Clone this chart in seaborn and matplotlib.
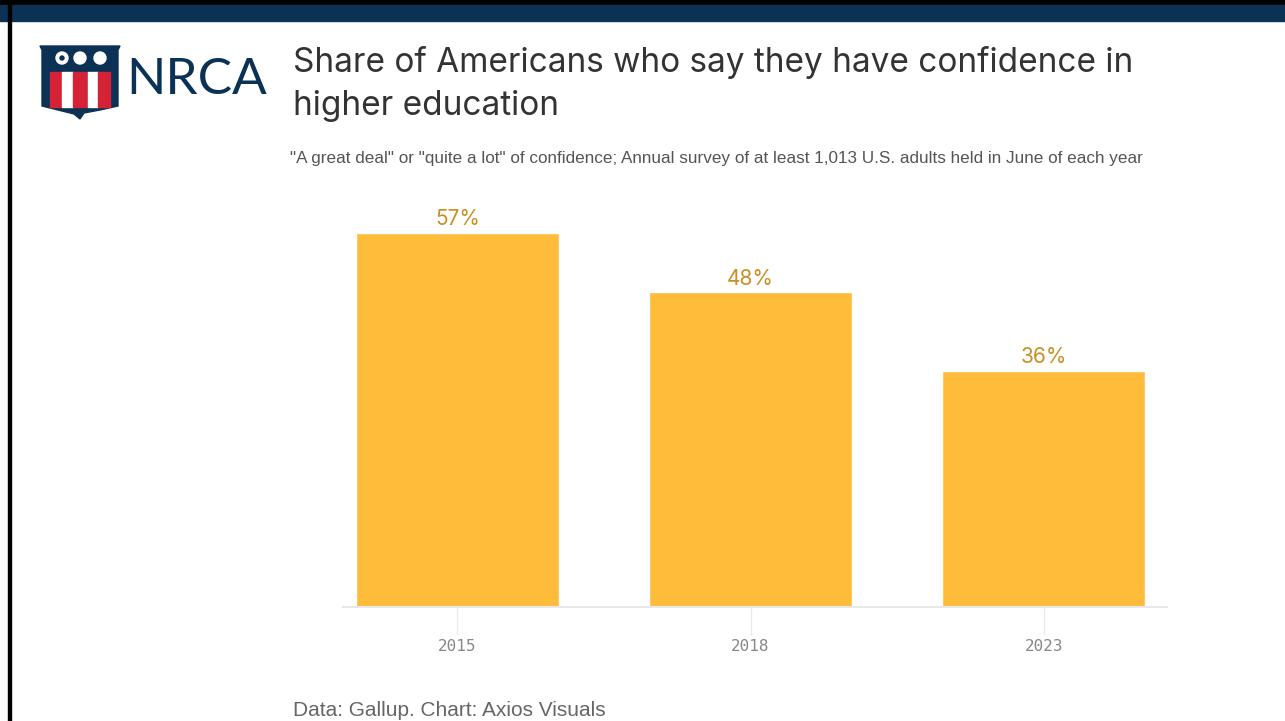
import matplotlib.pyplot as plt
import matplotlib.patches as mpatches
import seaborn as sns
import pandas as pd

years = ['2015', '2018', '2023']
confidence = [57, 48, 36]

df = pd.DataFrame({'year': years, 'pct': confidence})

bar_color = '#FFBB3A'
label_color = '#C98F22'
navy = '#0B3255'

sns.set_style('white')
plt.rcParams['font.family'] = ['Inter', 'DejaVu Sans']

fig = plt.figure(figsize=(12.85, 7.21), dpi=100)
fig.patch.set_facecolor('white')

# page frame: black top edge, navy band, black left edge
fig.patches.append(mpatches.Rectangle((0, 1 - 5 / 721), 1, 5 / 721, transform=fig.transFigure,
                                      color='black', zorder=0))
fig.patches.append(mpatches.Rectangle((0, 1 - 21 / 721), 1, 16 / 721, transform=fig.transFigure,
                                      color=navy, zorder=0))
fig.patches.append(mpatches.Rectangle((8 / 1285, 0), 3 / 1285, 1, transform=fig.transFigure,
                                      color='black', zorder=1))

ax = fig.add_axes([343 / 1285, 114 / 721, 824 / 1285, 394 / 721])
sns.barplot(data=df, x='year', y='pct', color=bar_color, width=0.693, saturation=1, ax=ax)

for i, v in enumerate(df.pct):
    ax.text(i, v + 0.5, f'{v}%', ha='center', va='bottom', color=label_color, fontsize=15)

ax.set_xlim(-0.39, 2.42)
ax.set_ylim(0, 60)
ax.set_xlabel('')
ax.set_ylabel('')
ax.set_yticks([])
sns.despine(ax=ax, left=True, top=True, right=True)
ax.spines['bottom'].set_color('#E8E8E8')
ax.spines['bottom'].set_linewidth(1.5)
ax.tick_params(axis='x', bottom=True, length=20, color='#EBEBEB', width=1, pad=3,
               labelsize=11.5, labelcolor='#888888')
for t in ax.get_xticklabels():
    t.set_family(['DejaVu Sans Mono'])

# title block
fig.text(293 / 1285, 1 - 46 / 721, 'Share of Americans who say they have confidence in\nhigher education',
         ha='left', va='top', fontsize=24, color='#333333', linespacing=1.42)
fig.text(290 / 1285, 1 - 158 / 721,
         '"A great deal" or "quite a lot" of confidence; Annual survey of at least 1,013 U.S. adults held in June of each year',
         ha='left', va='center', fontsize=12.3, color='#555555',
         family=['Liberation Sans Narrow', 'Liberation Sans'])
fig.text(293 / 1285, 1 - 710 / 721, 'Data: Gallup. Chart: Axios Visuals', ha='left', va='center',
         fontsize=15, color='#666666', family=['Liberation Sans'])

# NRCA logo
lax = fig.add_axes([30 / 1285, 1 - 125 / 721, 100 / 1285, 85 / 721])
lax.set_xlim(30, 130)
lax.set_ylim(125, 40)
lax.axis('off')
shield = mpatches.Polygon([(40, 46), (120, 46), (118, 50), (118, 106), (100, 110), (84, 113),
                           (80, 119), (74, 114), (58, 110), (42, 106), (42, 50)],
                          closed=True, color=navy)
lax.add_patch(shield)
stripe_edges = [50, 62, 73, 88, 98, 110]
for k in range(5):
    lax.add_patch(mpatches.Rectangle((stripe_edges[k], 72), stripe_edges[k + 1] - stripe_edges[k], 35,
                                     color='#D62236' if k % 2 == 0 else 'white'))
for cx in [62, 80, 100]:
    lax.add_patch(mpatches.Circle((cx, 58), 6, color='white'))
lax.add_patch(mpatches.Circle((62, 58), 2, color=navy))

fig.text(126 / 1285, 1 - 80 / 721, 'NRCA', ha='left', va='center', fontsize=37, color=navy,
         family=['Lato', 'DejaVu Sans'])

plt.savefig('out.png', dpi=100)
